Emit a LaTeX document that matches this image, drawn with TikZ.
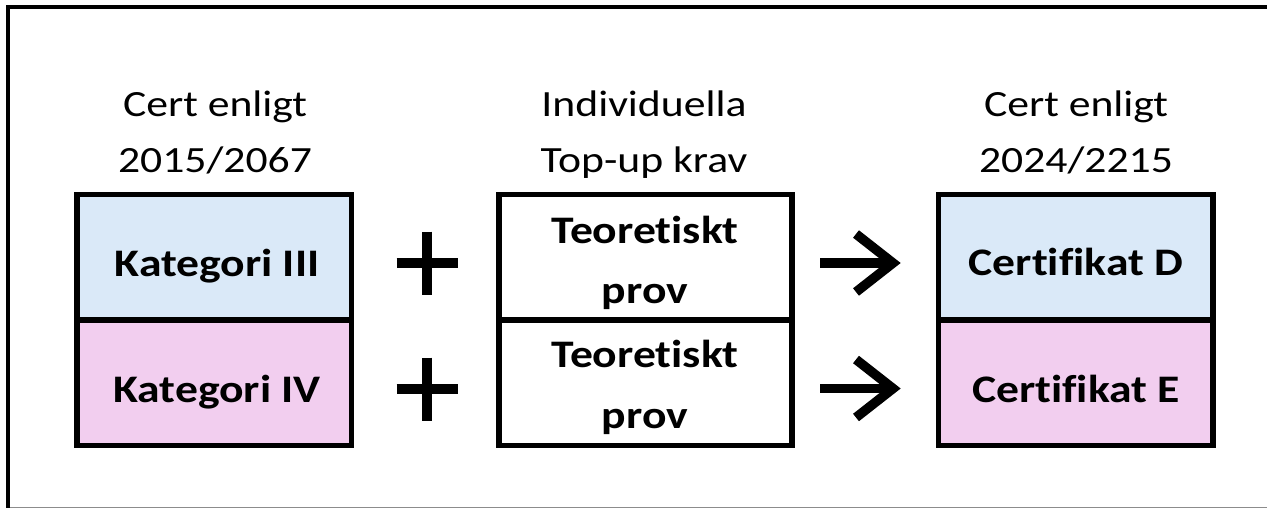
\documentclass[tikz,border=0pt]{standalone}
\usepackage{fontspec}
\newfontfamily\regf{Carlito}[FakeStretch=1.18, Ligatures=NoCommon]
\newfontfamily\bldf{Carlito}[FakeStretch=1.17, Ligatures=NoCommon]
\definecolor{cblue}{HTML}{DAE9F8}
\definecolor{cpink}{HTML}{F2CEEF}
\tikzset{
  cell/.style={draw=black, line width=5.5pt, minimum width=274.5pt, minimum height=125.5pt, inner sep=0pt, outer sep=0pt},
  widecell/.style={cell, minimum width=293pt},
  lbl/.style={anchor=base, inner sep=0pt, font=\regf\fontsize{37}{44}\selectfont},
  btxt/.style={anchor=base, inner sep=0pt, font=\bldf\bfseries\fontsize{39}{46}\selectfont},
  barstroke/.style={line width=10pt},
  arrstroke/.style={line width=9.5pt, line join=miter, miter limit=10}
}
\begin{document}
\begin{tikzpicture}[x=1pt,y=-1pt]
\useasboundingbox (0,0) rectangle (1267,508);
\fill[white] (0,0) rectangle (1267,508);
% frame
\draw[black!45, line width=1pt] (8,507.5) -- (1267,507.5);
\draw[line width=4pt] (8,508) -- (8,7) -- (1267,7);
% header labels
\node[lbl] (h1a) at (215,117) {Cert enligt};
\node[lbl] (h1b) at (215,173) {2015/2067};
\node[lbl] (h2a) at (644,117) {Individuella};
\node[lbl] (h2b) at (644,172) {Top-up krav};
\node[lbl] (h3a) at (1076,117) {Cert enligt};
\node[lbl] (h3b) at (1076,173) {2024/2215};
% cells
\node[cell, fill=cblue] (k3) at (214.25,257.25) {};
\node[cell, fill=cpink] (k4) at (214.25,382.75) {};
\node[widecell, fill=white] (t1) at (645.5,257.25) {};
\node[widecell, fill=white] (t2) at (645.5,382.75) {};
\node[cell, fill=cblue] (cd) at (1075.5,257.25) {};
\node[cell, fill=cpink] (ce) at (1075.5,382.75) {};
% cell texts
\node[btxt] (k3t) at (217,276) {Kategori III};
\node[btxt] (k4t) at (217,402) {Kategori IV};
\node[btxt] (t1a) at (645,243) {Teoretiskt};
\node[btxt] (t1b) at (645,303) {prov};
\node[btxt] (t2a) at (645,367) {Teoretiskt};
\node[btxt] (t2b) at (645,428) {prov};
\node[btxt] (cdt) at (1076,275) {Certifikat D};
\node[btxt] (cet) at (1076,402) {Certifikat E};
% plus signs
\coordinate (p1) at (427,263);
\coordinate (p2) at (427,389);
\draw[barstroke] ([xshift=-30.5pt]p1) -- ([xshift=30.5pt]p1);
\draw[barstroke] ([yshift=31.5pt]p1) -- ([yshift=-31.5pt]p1);
\draw[barstroke] ([xshift=-30.5pt]p2) -- ([xshift=30.5pt]p2);
\draw[barstroke] ([yshift=31.5pt]p2) -- ([yshift=-31.5pt]p2);
% arrows
\coordinate (a1s) at (820,263);
\coordinate (a1t) at (893,263);
\coordinate (a2s) at (820,388.5);
\coordinate (a2t) at (893,388.5);
\draw[arrstroke] (a1s) -- (a1t);
\draw[arrstroke] ([shift={(-37,-29)}]a1t) -- (a1t) -- ([shift={(-37,29)}]a1t);
\draw[arrstroke] (a2s) -- (a2t);
\draw[arrstroke] ([shift={(-37,-29)}]a2t) -- (a2t) -- ([shift={(-37,29)}]a2t);
\end{tikzpicture}
\end{document}
